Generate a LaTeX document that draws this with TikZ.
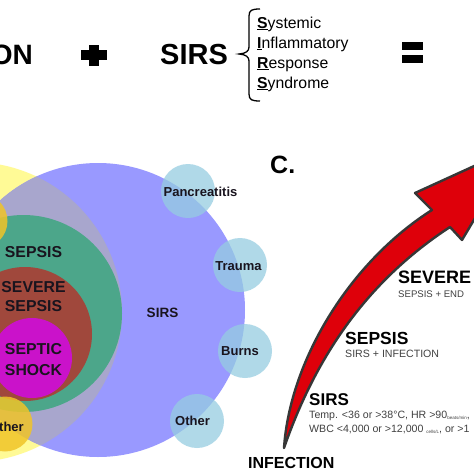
\documentclass[tikz,border=0pt]{standalone}
\usepackage{fontspec}
\setmainfont{Liberation Sans}
\definecolor{sirsblue}{RGB}{153,153,255}
\definecolor{infyellow}{RGB}{255,250,150}
\definecolor{overlapgray}{RGB}{168,166,205}
\definecolor{sepsisgreen}{RGB}{76,166,138}
\definecolor{severebrown}{RGB}{160,72,60}
\definecolor{shockmagenta}{RGB}{202,18,202}
\definecolor{goldc}{RGB}{240,196,40}
\definecolor{lightbluec}{RGB}{150,205,225}
\definecolor{arrowred}{RGB}{222,0,10}
\definecolor{arrowedge}{RGB}{55,55,55}
\definecolor{subgray}{RGB}{65,65,65}
\definecolor{labelcol}{RGB}{25,20,30}
\begin{document}
\begin{tikzpicture}[x=1pt,y=-1pt,
  disc/.style={circle,inner sep=0pt,outer sep=0pt},
  goldcirc/.style={disc,fill=goldc,fill opacity=0.85,minimum size=55pt},
  bluecirc/.style={disc,fill=lightbluec,fill opacity=0.75,minimum size=54pt},
  lblL/.style={inner sep=0pt,text=labelcol,font=\bfseries\fontsize{15.8}{16}\selectfont},
  lblC/.style={inner sep=0pt,text=labelcol,font=\bfseries\fontsize{13}{13}\selectfont},
  lblS/.style={inner sep=0pt,text=labelcol,font=\bfseries\fontsize{13.5}{14}\selectfont},
  hdr/.style={anchor=base west,inner sep=0pt,text=black},
  subtxt/.style={anchor=base west,inner sep=0pt,text=subgray,font=\fontsize{10.6}{11}\selectfont},
  bracetxt/.style={anchor=base west,inner sep=0pt,font=\fontsize{15.8}{16}\selectfont},
  opbar/.style={rectangle,fill=black,inner sep=0pt,outer sep=0pt},
  arrowbody/.style={fill=arrowred,draw=arrowedge,line width=2.4pt,line join=round}
]
\useasboundingbox (0,0) rectangle (474,474);
\clip (0,0) rectangle (474,474);
\fill[white] (0,0) rectangle (474,474);

% ---------- top row ----------
\node[anchor=base east,inner sep=0pt,font=\bfseries\fontsize{28}{28}\selectfont] (on) at (33,64) {ON};
\node[opbar,minimum width=26pt,minimum height=10pt] (plush) at (94,55) {};
\node[opbar,minimum width=10pt,minimum height=21pt] (plusv) at (94,55.5) {};
\node[anchor=base west,inner sep=0pt,font=\bfseries\fontsize{29}{29}\selectfont] (sirstop) at (160,64) {SIRS};
\draw[line width=1.3pt] (260,9) .. controls (252,9) and (249,10) .. (249,16) -- (249,47)
  .. controls (249,51) and (246,53.5) .. (239,54) .. controls (246,54.5) and (249,57) .. (249,61)
  -- (249,94) .. controls (249,100) and (252,101) .. (260,101);
\node[bracetxt] (t1) at (257,28) {\underline{\textbf{S}}ystemic};
\node[bracetxt] (t2) at (257,48) {\underline{\textbf{I}}nflammatory};
\node[bracetxt] (t3) at (257,68) {\underline{\textbf{R}}esponse};
\node[bracetxt] (t4) at (257,88) {\underline{\textbf{S}}yndrome};
\node[opbar,minimum width=21pt,minimum height=8pt] (eq1) at (412.5,46) {};
\node[opbar,minimum width=21pt,minimum height=8pt] (eq2) at (412.5,59) {};

% ---------- left panel ----------
\node[disc,fill=infyellow,minimum size=300pt] (infection) at (-28,312) {};
\node[disc,fill=sirsblue,minimum size=294pt] (sirs) at (98,310) {};
\begin{scope}
  \clip (-28,312) circle[radius=150pt];
  \fill[overlapgray] (98,310) circle[radius=147pt];
\end{scope}
\node[disc,fill=sepsisgreen,minimum size=197pt] (sepsis) at (23.5,313.5) {};
\node[disc,fill=severebrown,minimum size=134pt] (severe) at (25,334) {};
\node[disc,fill=shockmagenta,minimum size=80pt] (shock) at (32,358) {};
\node[goldcirc] (goldtop) at (-20,221) {};
\node[goldcirc] (goldother) at (5,424) {};
\node[bluecirc] (panc) at (188,191) {};
\node[bluecirc] (trauma) at (240,265) {};
\node[bluecirc] (burns) at (245,351) {};
\node[bluecirc] (other) at (197,421) {};

\node[lblL] (lsepsis) at (33.5,252) {SEPSIS};
\node[lblL] (lsev1) at (33.5,287) {SEVERE};
\node[lblL] (lsev2) at (33.5,306) {SEPSIS};
\node[lblL] (lsh1) at (33.5,349) {SEPTIC};
\node[lblL] (lsh2) at (33.5,370) {SHOCK};
\node[lblS] (lsirs) at (162.5,312.5) {SIRS};
\node[lblC] (lpanc) at (200.5,192) {Pancreatitis};
\node[lblC] (ltrauma) at (238.5,266) {Trauma};
\node[lblC] (lburns) at (240,351) {Burns};
\node[lblC] (lother) at (192.5,421) {Other};
\node[lblC,anchor=west] (lther) at (-1,427) {ther};

% ---------- right panel ----------
\node[hdr,font=\bfseries\fontsize{25}{25}\selectfont] (clabel) at (270,173) {C.};
\draw[arrowbody] (284,448) .. controls (290,360) and (350,262) .. (432,210)
  -- (415,193) -- (518,146) -- (462,240) -- (450,227)
  .. controls (372,278) and (318,350) .. (284,448) -- cycle;
\node[hdr,font=\bfseries\fontsize{18}{18}\selectfont] (hsevere) at (398,283) {SEVERE};
\node[subtxt,font=\fontsize{9.6}{10}\selectfont] (ssevere) at (398,297) {SEPSIS + END};
\node[hdr,font=\bfseries\fontsize{17.5}{18}\selectfont] (hsepsis) at (345,344) {SEPSIS};
\node[subtxt] (ssepsis) at (345,357) {SIRS + INFECTION};
\node[hdr,font=\bfseries\fontsize{17}{17}\selectfont] (hsirs) at (309,405) {SIRS};
\node[subtxt] (ssirs1) at (309,418) {Temp. <36 or >38°C, HR >90\raisebox{-1pt}{\fontsize{4.5}{5}\selectfont beats/min},};
\node[subtxt] (ssirs2) at (309,432) {WBC <4,000 or >12,000 \raisebox{-1pt}{\fontsize{4.5}{5}\selectfont cells/L}, or >1};
\node[hdr,font=\bfseries\fontsize{16}{16}\selectfont] (hinf) at (248,468) {INFECTION};
\end{tikzpicture}
\end{document}
